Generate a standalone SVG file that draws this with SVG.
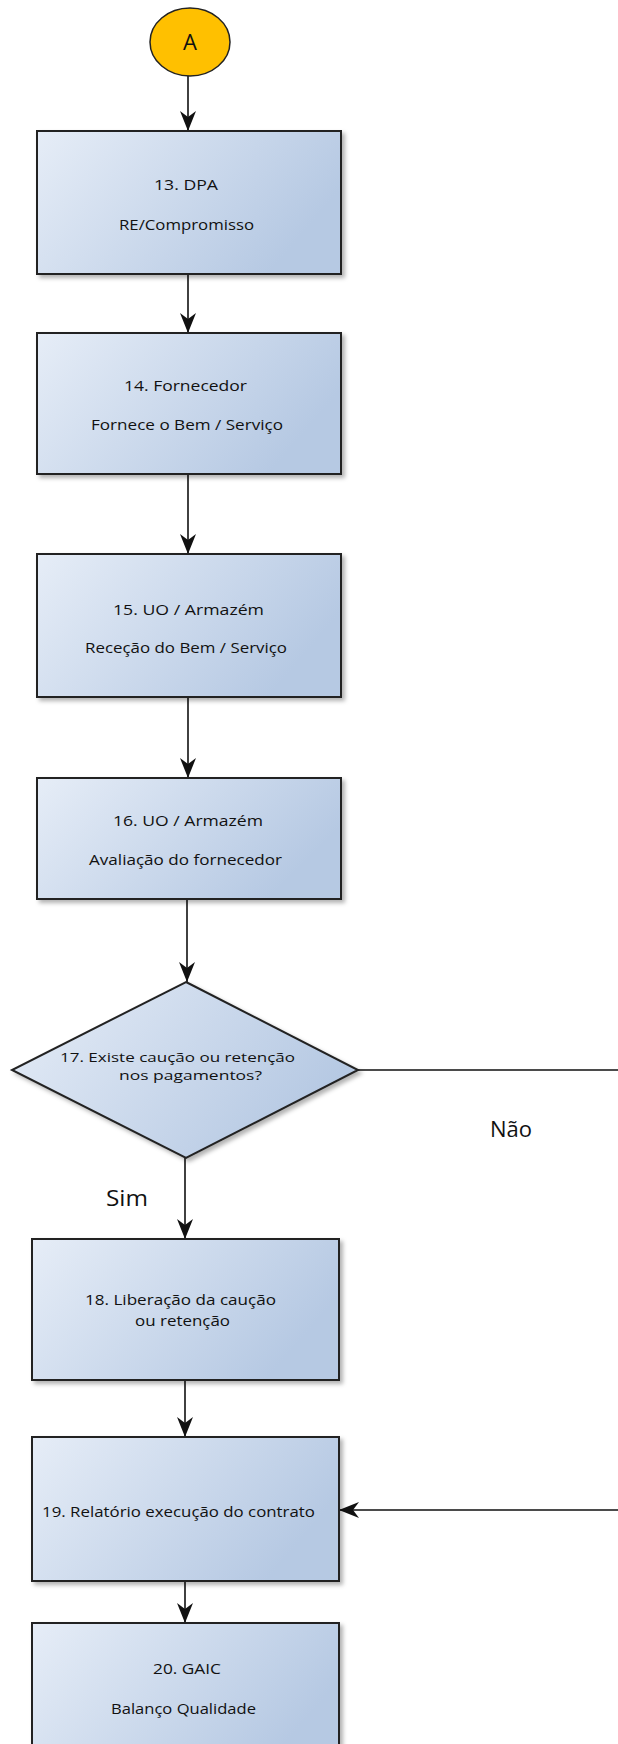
<svg xmlns="http://www.w3.org/2000/svg" width="618" height="1744" viewBox="0 0 618 1744">
<style>
.box{fill:url(#g);stroke:#222;stroke-width:2;filter:url(#sh)}
.t{font-family:"Open Sans","Liberation Sans",Arial,sans-serif;font-size:15px;fill:#111}
.s{font-size:14px}
.d{font-size:13px}
.lbl{font-family:"Open Sans","Liberation Sans",Arial,sans-serif;font-size:22px;fill:#111}
.c{fill:none;stroke:#111;stroke-width:1.6;marker-end:url(#ah)}
</style>
<defs>
<linearGradient id="g" x1="0" y1="0" x2="1" y2="0.4">
<stop offset="0" stop-color="#E6EDF7"/>
<stop offset="1" stop-color="#B6C9E3"/>
</linearGradient>
<filter id="sh" x="-10%" y="-10%" width="130%" height="130%">
<feDropShadow dx="3" dy="3" stdDeviation="2" flood-color="#000" flood-opacity="0.3"/>
</filter>
<marker id="ah" viewBox="0 0 20 16" refX="20" refY="8" markerWidth="20" markerHeight="16" markerUnits="userSpaceOnUse" orient="auto">
<path d="M0,0 L20,8 L0,16 L6,8 z" fill="#111"/>
</marker>
</defs>
<g id="connectors">
<path class="c" d="M188,76 V131"/>
<path class="c" d="M188,274 V333"/>
<path class="c" d="M188,474 V554"/>
<path class="c" d="M188,697 V778"/>
<path class="c" d="M187,899 V982"/>
<path class="c" d="M185,1158 V1239"/>
<path class="c" d="M185,1380 V1437"/>
<path class="c" d="M185,1581 V1623"/>
<path class="c" d="M358,1070 H640 V1510 H339"/>
<text class="lbl" x="490" y="1137">Não</text>
<text class="lbl" x="106" y="1206" textLength="42" lengthAdjust="spacingAndGlyphs">Sim</text>
</g>
<g id="nA">
<ellipse cx="190" cy="42" rx="40" ry="34" fill="#FFC000" stroke="#222" stroke-width="1.5"/>
<text class="lbl" x="190" y="50" text-anchor="middle">A</text>
</g>
<g id="n13">
<rect class="box" x="37" y="131" width="304" height="143"/>
<text class="t s" x="154" y="190" textLength="64" lengthAdjust="spacingAndGlyphs">13. DPA</text>
<text class="t" x="119" y="230" textLength="135" lengthAdjust="spacingAndGlyphs">RE/Compromisso</text>
</g>
<g id="n14">
<rect class="box" x="37" y="333" width="304" height="141"/>
<text class="t" x="124" y="391" textLength="123" lengthAdjust="spacingAndGlyphs">14. Fornecedor</text>
<text class="t" x="91" y="430" textLength="192" lengthAdjust="spacingAndGlyphs">Fornece o Bem / Serviço</text>
</g>
<g id="n15">
<rect class="box" x="37" y="554" width="304" height="143"/>
<text class="t" x="113" y="615" textLength="151" lengthAdjust="spacingAndGlyphs">15. UO / Armazém</text>
<text class="t" x="85" y="653" textLength="202" lengthAdjust="spacingAndGlyphs">Receção do Bem / Serviço</text>
</g>
<g id="n16">
<rect class="box" x="37" y="778" width="304" height="121"/>
<text class="t" x="113" y="826" textLength="150" lengthAdjust="spacingAndGlyphs">16. UO / Armazém</text>
<text class="t" x="89" y="865" textLength="193" lengthAdjust="spacingAndGlyphs">Avaliação do fornecedor</text>
</g>
<g id="n17">
<polygon class="box" points="186,982 358,1070 186,1158 12,1070"/>
<text class="t d" x="60" y="1062" textLength="235" lengthAdjust="spacingAndGlyphs">17. Existe caução ou retenção</text>
<text class="t d" x="119" y="1080" textLength="143" lengthAdjust="spacingAndGlyphs">nos pagamentos?</text>
</g>
<g id="n18">
<rect class="box" x="32" y="1239" width="307" height="141"/>
<text class="t s" x="85" y="1305" textLength="191" lengthAdjust="spacingAndGlyphs">18. Liberação da caução</text>
<text class="t s" x="135" y="1326" textLength="95" lengthAdjust="spacingAndGlyphs">ou retenção</text>
</g>
<g id="n19">
<rect class="box" x="32" y="1437" width="307" height="144"/>
<text class="t" x="42" y="1517" textLength="273" lengthAdjust="spacingAndGlyphs">19. Relatório execução do contrato</text>
</g>
<g id="n20">
<rect class="box" x="32" y="1623" width="307" height="143"/>
<text class="t" x="153" y="1674" textLength="68" lengthAdjust="spacingAndGlyphs">20. GAIC</text>
<text class="t" x="111" y="1714" textLength="145" lengthAdjust="spacingAndGlyphs">Balanço Qualidade</text>
</g>
</svg>
